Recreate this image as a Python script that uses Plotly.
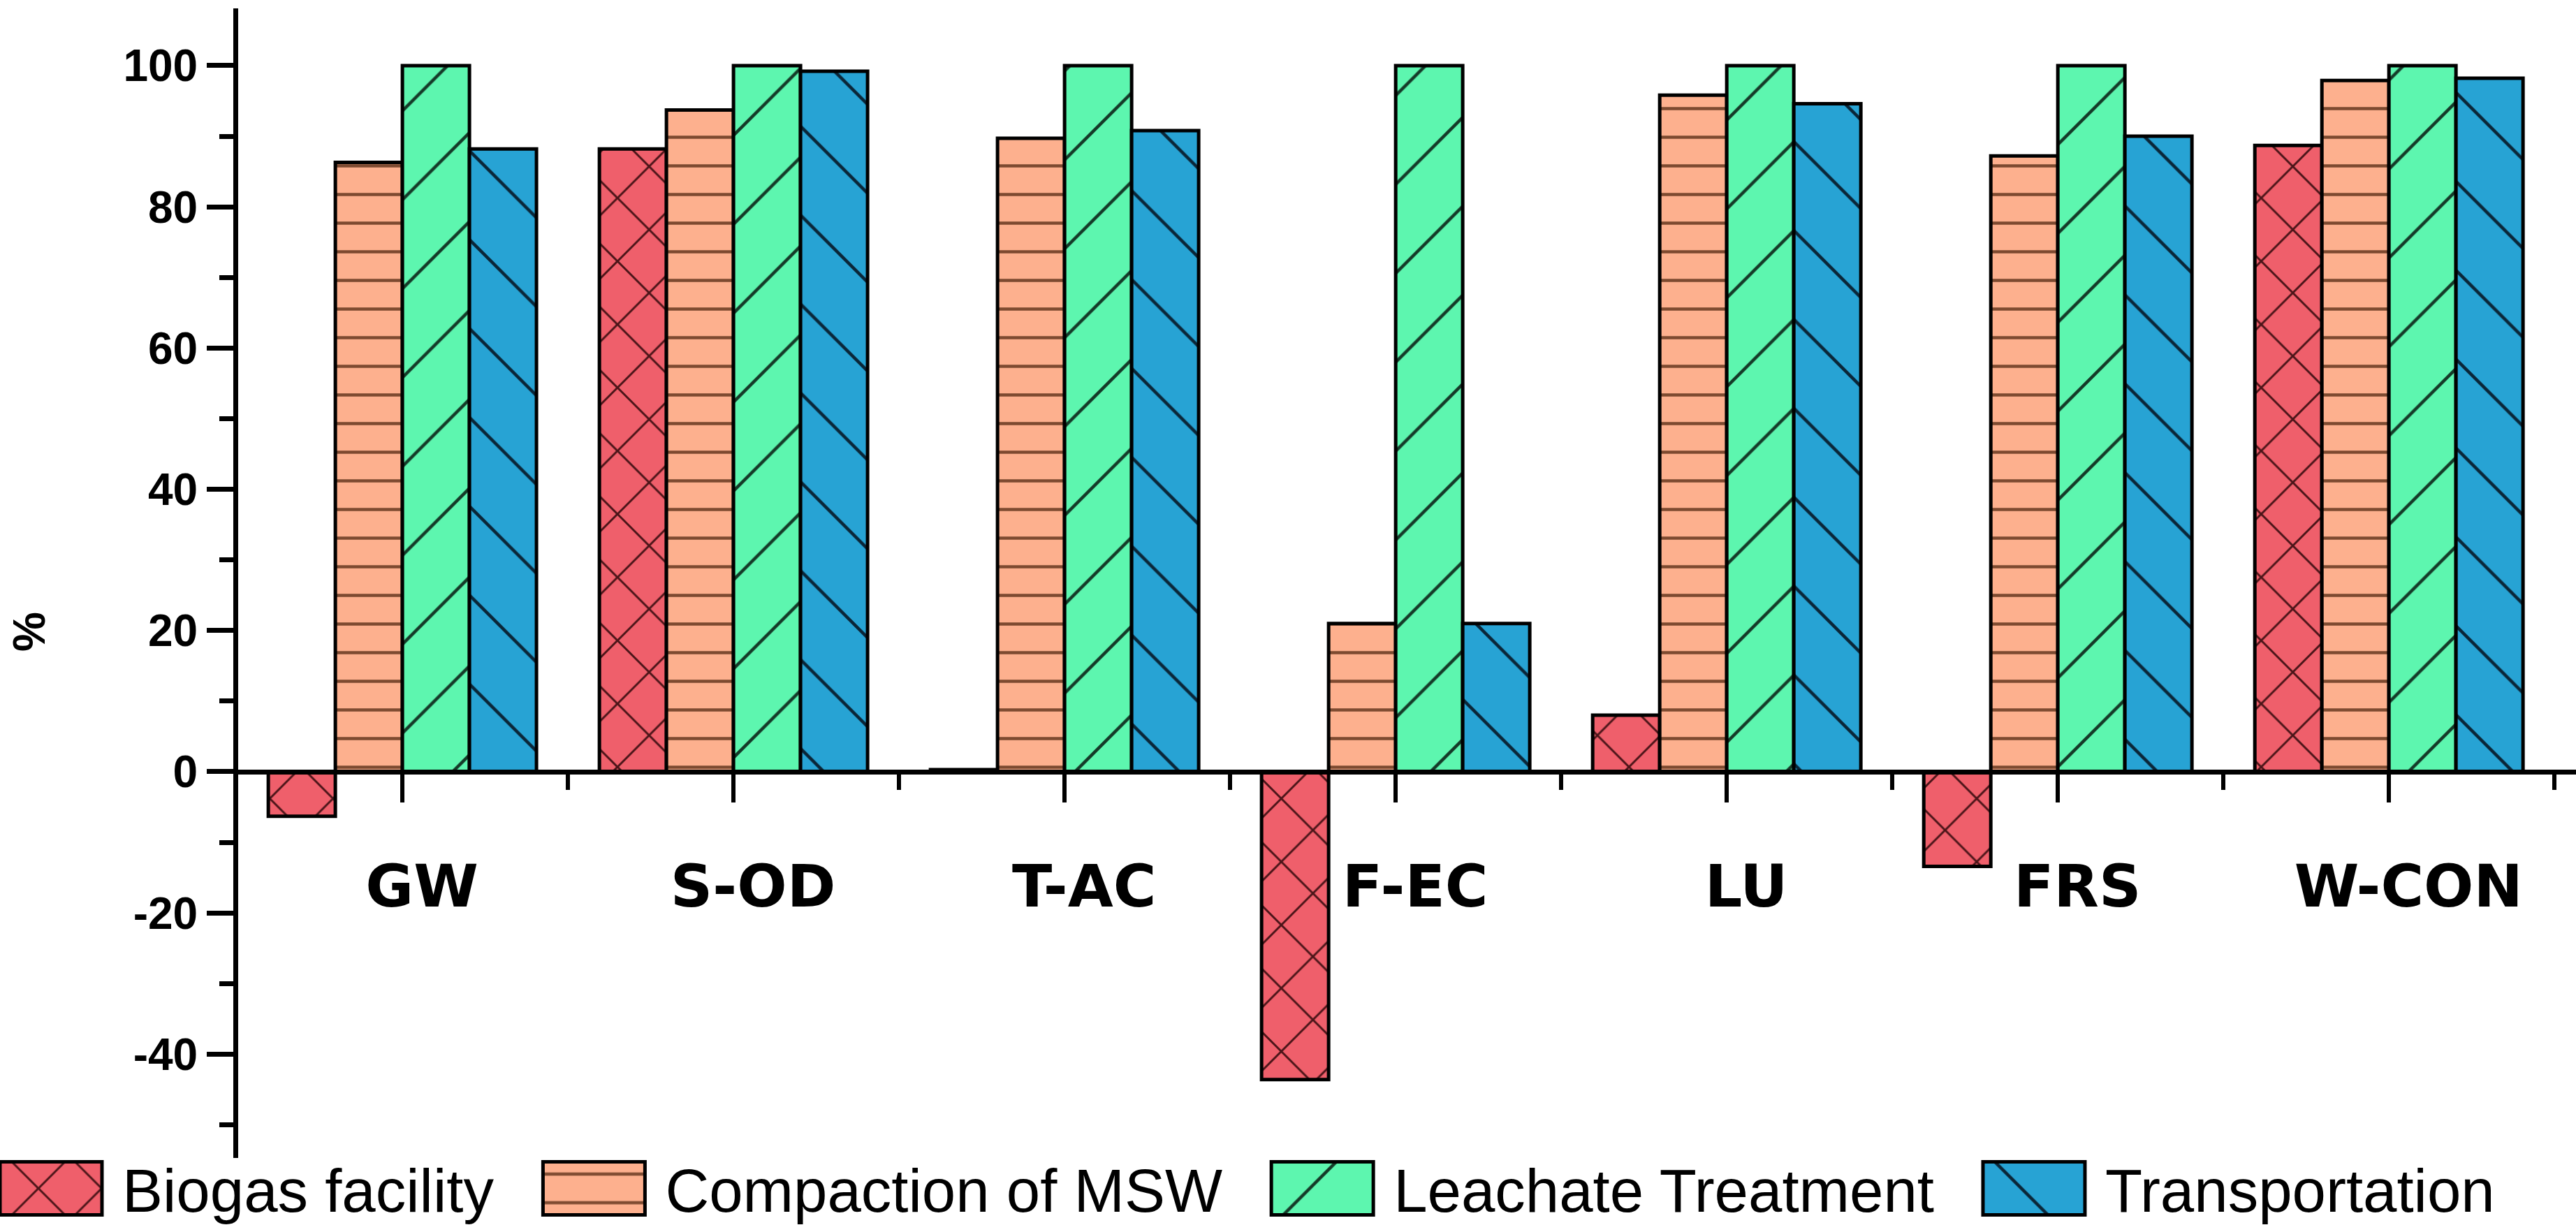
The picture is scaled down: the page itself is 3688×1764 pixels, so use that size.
import plotly.graph_objects as go

categories = ["GW", "S-OD", "T-AC", "F-EC", "LU", "FRS", "W-CON"]
series_names = ["Biogas facility", "Compaction of MSW", "Leachate Treatment", "Transportation"]
biogas = [-6.3, 88.2, 0.3, -43.6, 8.0, -13.4, 88.7]
compaction = [86.3, 93.7, 89.7, 21.0, 95.8, 87.2, 97.9]
leachate = [100, 100, 100, 100, 100, 100, 100]
transportation = [88.2, 99.2, 90.8, 21.0, 94.6, 90.0, 98.2]
y_tick_values = [-40, -20, 0, 20, 40, 60, 80, 100]
y_tick_labels = [str(v) for v in y_tick_values]

series_values = [biogas, compaction, leachate, transportation]
fill_colors = ["#EF5F6B", "#FDB08E", "#5DF6AF", "#27A3D4"]
line_colors = ["#4a1418", "#7d4a30", "#143a28", "#0a2638"]
shapes = ["x", "-", "/", "\\"]
sizes = [64, 41, 90, 90]
solid = [0.09, 0.11, 0.05, 0.05]

W, H = 3688, 1764
ML, MR, MT, MB = 341, 0, 12, 106
PW, PH = W - ML - MR, H - MT - MB
y_range = [-54.7, 108.1]
x_range = [-0.496, 6.565]
x_pos = list(range(len(categories)))

fig = go.Figure()
for name, vals, fc, lc, sh, sz, so in zip(series_names, series_values, fill_colors,
                                          line_colors, shapes, sizes, solid):
    fig.add_trace(go.Bar(
        x=x_pos, y=vals, name=name,
        marker=dict(color=fc, line=dict(color="#000000", width=5),
                    pattern=dict(shape=sh, size=sz, solidity=so, fgcolor=lc,
                                 bgcolor=fc, fillmode="replace")),
    ))

LEG_SHIFT = 65
fig.update_layout(
    width=W, height=H,
    margin=dict(l=ML, r=MR, t=MT, b=MB, autoexpand=False),
    paper_bgcolor="white", plot_bgcolor="white",
    barmode="group", bargap=0.19, bargroupgap=0,
    showlegend=True,
    legend=dict(orientation="h", x=(-LEG_SHIFT - ML) / PW, xanchor="left",
                y=-(1702 - (H - MB)) / PH, yanchor="middle",
                font=dict(family="Liberation Sans, Arial", size=87, color="#000000"),
                itemwidth=230, bgcolor="rgba(0,0,0,0)", borderwidth=0,
                tracegroupgap=0),
    yaxis=dict(range=y_range, tickmode="array", tickvals=y_tick_values,
               ticktext=y_tick_labels, showgrid=False, zeroline=False,
               showline=True, linecolor="#000000", linewidth=7,
               ticks="outside", ticklen=38, tickwidth=7, tickcolor="#000000",
               minor=dict(tick0=-50, dtick=20, ticks="outside", ticklen=20, tickwidth=7,
                          tickcolor="#000000", showgrid=False),
               tickfont=dict(family="Liberation Sans, Arial", size=64, color="#000000",
                             weight="bold")),
    xaxis=dict(range=x_range, tickmode="array", tickvals=x_pos, ticktext=categories,
               showgrid=False, zeroline=False, anchor="free",
               position=(0 - y_range[0]) / (y_range[1] - y_range[0]),
               showline=True, linecolor="#000000", linewidth=7,
               ticks="outside", ticklen=40, tickwidth=6, tickcolor="#000000",
               minor=dict(tick0=0.5, dtick=1, ticks="outside", ticklen=22, tickwidth=6,
                          tickcolor="#000000", showgrid=False),
               ticklabelstandoff=48, ticklabelshift=28,
               tickfont=dict(family="DejaVu Sans", size=84, color="#000000", weight="bold")),
)

fig.add_annotation(text="%", xref="paper", yref="paper",
                   x=(42 - ML) / PW, y=((H - MB) - 905) / PH,
                   showarrow=False, textangle=-90, xanchor="center", yanchor="middle",
                   font=dict(family="Liberation Sans, Arial", size=64, color="#000000",
                             weight="bold"))

post = """
document.body.style.margin = '0';
document.documentElement.style.overflow = 'hidden';
var gd = document.getElementById('{plot_id}');
var fills = [];
gd.querySelectorAll('.barlayer .trace').forEach(function(t){
  var p = t.querySelector('.point path');
  fills.push(p ? p.style.fill : null);
});
gd.querySelectorAll('.legend .traces').forEach(function(it, i){
  var p = it.querySelector('.legendpoints path');
  if(!p) return;
  p.setAttribute('d', 'M91,38H-55V-38H91Z');
  if(fills[i]) p.style.fill = fills[i];
  p.style.strokeWidth = '5px';
  p.style.stroke = '#000000';
});
"""

fig.write_html("out.html", post_script=post, config={"displayModeBar": False})
